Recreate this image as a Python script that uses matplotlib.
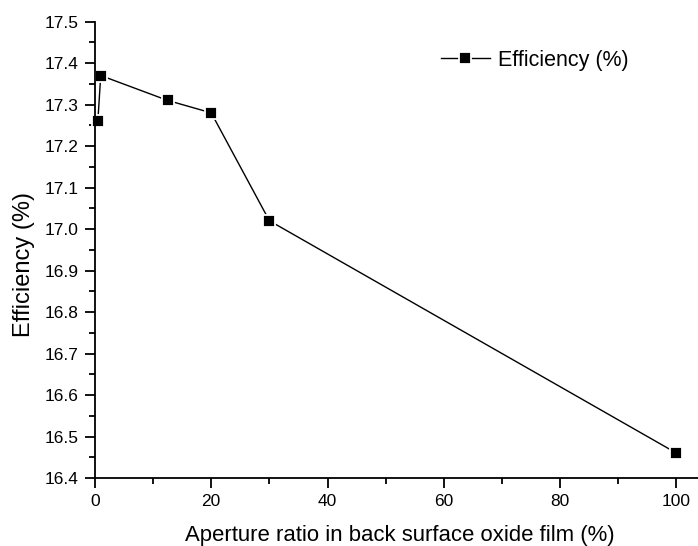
import matplotlib
matplotlib.use("Agg")
import matplotlib.pyplot as plt
from matplotlib.ticker import MultipleLocator, FormatStrFormatter

plt.rcParams['font.family'] = ['Liberation Sans', 'DejaVu Sans']

aperture = [0.5, 1.0, 12.5, 20.0, 30.0, 100.0]
efficiency = [17.26, 17.37, 17.31, 17.28, 17.02, 16.46]
xlabel = "Aperture ratio in back surface oxide film (%)"
ylabel = "Efficiency (%)"
legend_label = "Efficiency (%)"

fig = plt.figure(figsize=(6.98, 5.46), dpi=100)
ax = fig.add_axes([0.136, 0.1245, 0.864, 0.836])
ax.plot(aperture, efficiency, color='black', linewidth=1.0, marker='s',
        markersize=8.5, markerfacecolor='black', markeredgecolor='white',
        markeredgewidth=1.3, label=legend_label, clip_on=False, zorder=3)
ax.set_xlim(0, 103.7)
ax.set_ylim(16.4, 17.5)
ax.xaxis.set_major_locator(MultipleLocator(20))
ax.xaxis.set_minor_locator(MultipleLocator(10))
ax.yaxis.set_major_locator(MultipleLocator(0.1))
ax.yaxis.set_minor_locator(MultipleLocator(0.05))
ax.yaxis.set_major_formatter(FormatStrFormatter('%.1f'))
for s in ['top', 'right']:
    ax.spines[s].set_visible(False)
for s in ['left', 'bottom']:
    ax.spines[s].set_linewidth(1.3)
    ax.spines[s].set_zorder(4)
ax.tick_params(which='major', direction='out', length=7, width=1.3,
               labelsize=12.5, pad=4.5)
ax.tick_params(which='minor', direction='out', length=4.3, width=1.3)
ax.set_xlabel(xlabel, fontsize=15.9)
ax.set_ylabel(ylabel, fontsize=17)
ax.xaxis.set_label_coords(0.506, -0.104)
ax.yaxis.set_label_coords(-0.0995, 0.468)
fig.legend(loc='center left', frameon=False, fontsize=15.5, handlelength=2.27,
           handletextpad=0.37, borderpad=0, borderaxespad=0,
           bbox_to_anchor=(441 / 698, 1 - 60 / 546),
           bbox_transform=fig.transFigure)
fig.savefig('out.png', dpi=100)
